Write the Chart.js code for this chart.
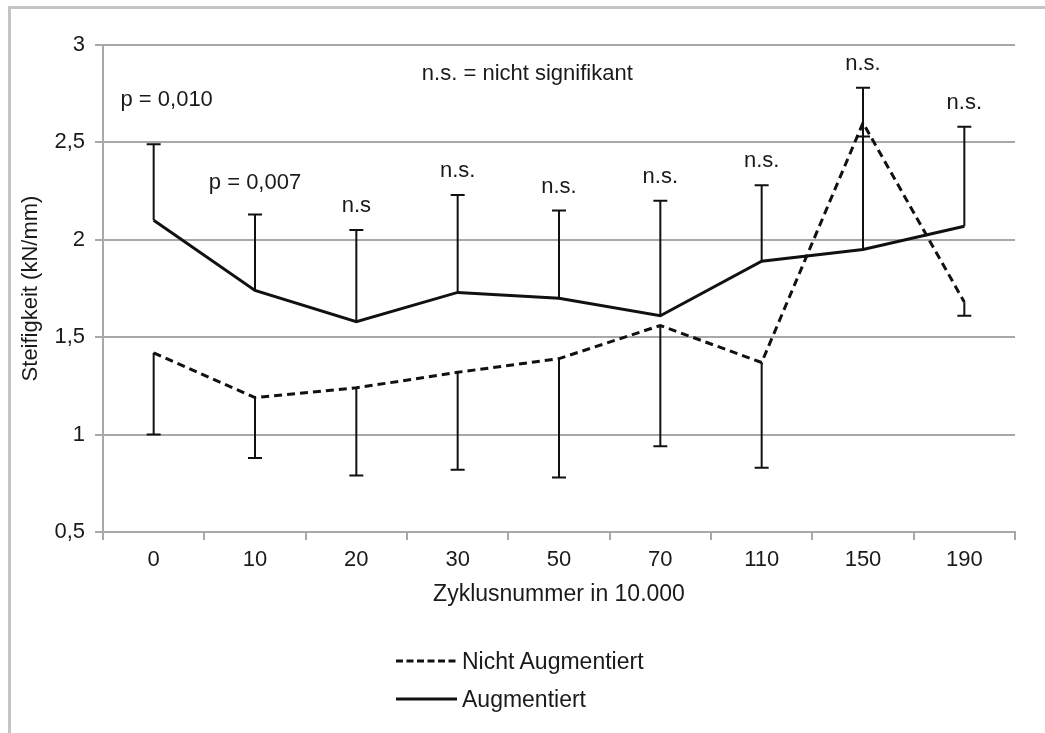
<!DOCTYPE html>
<html>
<head>
<meta charset="utf-8">
<script src="https://cdn.jsdelivr.net/npm/chart.js@4"></script>
<style>
  body { margin: 0; background: #fff; font-family: "Liberation Sans", Arial, sans-serif; }
  #wrap { position: relative; width: 1045px; height: 733px; overflow: hidden; }
  #frame { position: absolute; left: 8px; top: 6px; width: 1100px; height: 800px;
           border-left: 3px solid #c4c4c4; border-top: 3px solid #c4c4c4; }
  canvas { position: absolute; left: 0; top: 0; }
  #legend { position: absolute; left: 396px; top: 642px; font-size: 23px; color: #1a1a1a; }
  #legend div { height: 38px; display: flex; align-items: center; }
  #legend svg { margin-right: 5px; }
</style>
</head>
<body>
<div id="wrap">
  <div id="frame"></div>
  <canvas id="chart" width="1045" height="733"></canvas>
  <div id="legend"></div>
</div>
<script>
// Zyklusnummer (x 10.000)
const zyklen = ['0', '10', '20', '30', '50', '70', '110', '150', '190'];

// Steifigkeit in kN/mm
const augmentiert = [2.10, 1.74, 1.58, 1.73, 1.70, 1.61, 1.89, 1.95, 2.07];
const augmentiertOben = [2.49, 2.13, 2.05, 2.23, 2.15, 2.20, 2.28, 2.78, 2.58];
const nichtAugmentiert = [1.42, 1.19, 1.24, 1.32, 1.39, 1.56, 1.37, 2.60, 1.68];
const nichtAugmentiertUnten = [1.00, 0.88, 0.79, 0.82, 0.78, 0.94, 0.83, 2.53, 1.61];

const signifikanz = ['p = 0,010', 'p = 0,007', 'n.s', 'n.s.', 'n.s.', 'n.s.', 'n.s.', 'n.s.', 'n.s.'];
const yTicks = [0.5, 1, 1.5, 2, 2.5, 3];

const font = '"Liberation Sans", Arial, sans-serif';
const textColor = '#1a1a1a';

// error bars: upper for Augmentiert, lower for Nicht Augmentiert
const errorBars = {
  id: 'errorBars',
  afterDatasetsDraw(chart) {
    const { ctx, scales: { x, y } } = chart;
    ctx.save();
    ctx.strokeStyle = '#111';
    ctx.lineWidth = 2;
    const bar = (i, from, to) => {
      const px = x.getPixelForValue(i);
      const y1 = y.getPixelForValue(from);
      const y2 = y.getPixelForValue(to);
      ctx.beginPath();
      ctx.moveTo(px, y1);
      ctx.lineTo(px, y2);
      ctx.moveTo(px - 7, y2);
      ctx.lineTo(px + 7, y2);
      ctx.stroke();
    };
    zyklen.forEach((z, i) => {
      bar(i, augmentiert[i], augmentiertOben[i]);
      bar(i, nichtAugmentiert[i], nichtAugmentiertUnten[i]);
    });
    ctx.restore();
  }
};

// significance labels above the bars
const labelsPlugin = {
  id: 'labelsPlugin',
  afterDraw(chart) {
    const { ctx, chartArea, scales: { x, y } } = chart;
    ctx.save();
    ctx.fillStyle = textColor;
    ctx.font = '22px ' + font;
    ctx.textAlign = 'center';
    ctx.textBaseline = 'middle';
    signifikanz.forEach((txt, i) => {
      const top = Math.max(augmentiertOben[i], nichtAugmentiert[i]);
      let px = x.getPixelForValue(i);
      let py = y.getPixelForValue(top) - 24;
      if (i === 0) { px += 13; py -= 20; }
      if (i === 1) { py -= 8; }
      ctx.fillText(txt, px, py);
    });
    ctx.fillText('n.s. = nicht signifikant', (x.getPixelForValue(3) + x.getPixelForValue(4)) / 2 + 19, chartArea.top + 29);
    ctx.restore();
  }
};

const ctx = document.getElementById('chart').getContext('2d');

const chart = new Chart(ctx, {
  type: 'line',
  data: {
    labels: zyklen,
    datasets: [{
      label: 'Nicht Augmentiert',
      data: nichtAugmentiert,
      borderColor: '#111',
      borderWidth: 3,
      borderDash: [8, 5],
      pointRadius: 0,
      tension: 0
    }, {
      label: 'Augmentiert',
      data: augmentiert,
      borderColor: '#111',
      borderWidth: 3,
      pointRadius: 0,
      tension: 0
    }]
  },
  options: {
    responsive: false,
    animation: false,
    layout: { padding: { left: 0, right: 30, top: 45, bottom: 125 } },
    plugins: {
      legend: { display: false },
      tooltip: { enabled: false }
    },
    scales: {
      x: {
        offset: true,
        grid: { display: true, drawOnChartArea: false, offset: true, color: '#a8a8a8', lineWidth: 2, tickLength: 8 },
        border: { color: '#a8a8a8', width: 2 },
        ticks: { color: textColor, font: { family: font, size: 22 }, padding: 7, maxRotation: 0 },
        title: { display: true, text: 'Zyklusnummer in 10.000', color: textColor, font: { family: font, size: 23 }, padding: { top: 0, bottom: 0 } }
      },
      y: {
        min: 0.5,
        max: 3,
        afterBuildTicks(axis) { axis.ticks = yTicks.map(v => ({ value: v })); },
        afterFit(axis) { axis.width = 103; },
        grid: { color: '#a8a8a8', lineWidth: 2, tickLength: 8 },
        border: { color: '#a8a8a8', width: 2 },
        ticks: {
          color: textColor,
          font: { family: font, size: 22 },
          padding: 10,
          callback: v => String(v).replace('.', ',')
        },
        title: { display: true, text: 'Steifigkeit (kN/mm)', color: textColor, font: { family: font, size: 22 }, padding: { top: 18, bottom: 0 } }
      }
    }
  },
  plugins: [errorBars, labelsPlugin]
});

// legend as two rows, built from the datasets
const legend = document.getElementById('legend');
chart.data.datasets.forEach(ds => {
  const row = document.createElement('div');
  const dash = ds.borderDash ? 'stroke-dasharray="7 3.5"' : '';
  row.innerHTML = '<svg width="61" height="10"><line x1="0" y1="5" x2="61" y2="5" stroke="#111" stroke-width="3" ' + dash + '/></svg><span>' + ds.label + '</span>';
  legend.appendChild(row);
});
</script>
</body>
</html>
